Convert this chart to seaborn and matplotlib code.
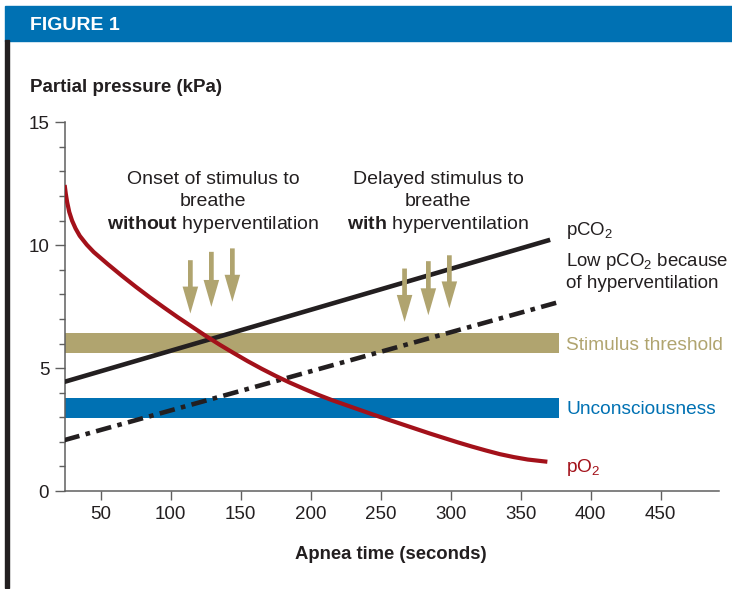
import matplotlib
matplotlib.use("Agg")
import matplotlib.pyplot as plt
import seaborn as sns
import pandas as pd
from matplotlib.patches import Rectangle

# apnea time (s) vs partial pressure (kPa)
po2_time = [24.2, 25, 26, 27.5, 29.5, 32, 35, 40, 45, 55, 65, 75, 85, 95, 105,
            115, 125, 135, 145, 155, 165, 175, 185, 195, 205, 215, 225, 235,
            245, 255, 265, 275, 285, 295, 305, 315, 325, 335, 345, 355, 369]
po2_kpa = [12.45, 12.1, 11.75, 11.35, 11.0, 10.68, 10.38, 10.02, 9.72, 9.23,
           8.76, 8.31, 7.88, 7.47, 7.07, 6.69, 6.31, 5.95, 5.61, 5.28, 4.97,
           4.68, 4.41, 4.16, 3.92, 3.70, 3.50, 3.30, 3.10, 2.91, 2.72, 2.53,
           2.34, 2.16, 1.98, 1.81, 1.65, 1.50, 1.38, 1.28, 1.19]

pco2_time = [24, 371]
pco2_kpa = [4.44, 10.22]

pco2_low_time = [24, 378]
pco2_low_kpa = [2.07, 7.70]

band_time = [24, 377]
stimulus_band = [5.62, 6.41]
unconscious_band = [2.98, 3.77]

# arrows: time, top, tip
arrows_without_time = [114, 129, 144]
arrows_without_top = [9.39, 9.73, 9.87]
arrows_without_tip = [7.22, 7.49, 7.70]
arrows_with_time = [267, 284, 299]
arrows_with_top = [9.05, 9.35, 9.59]
arrows_with_tip = [6.88, 7.15, 7.43]

x_ticks = [50, 100, 150, 200, 250, 300, 350, 400, 450]
y_ticks = [0, 5, 10, 15]

BLUE = "#0071b3"
TAN = "#b0a46f"
RED = "#a3111a"
DARK = "#231f20"
GREY = "#5f5f5f"

W, H = 732, 589

sns.set_style("white")
plt.rcParams["font.family"] = ["Liberation Sans", "DejaVu Sans"]
plt.rcParams["mathtext.fontset"] = "custom"
plt.rcParams["mathtext.rm"] = "Liberation Sans"
plt.rcParams["mathtext.bf"] = "Liberation Sans:bold"
plt.rcParams["mathtext.default"] = "regular"


def px(x, y):
    return x / W, 1 - y / H


fig = plt.figure(figsize=(W / 100, H / 100), dpi=100)
ax = fig.add_axes([64.5 / W, 1 - 491 / H, (719 - 64.5) / W, (491 - 122.3) / H])

# header bar and left rule
fig.patches.append(Rectangle(px(5, 40.5), 1, 34.5 / H, transform=fig.transFigure,
                             color=BLUE, zorder=0))
fig.patches.append(Rectangle(px(5, 588), 3.5 / W, 548 / H, transform=fig.transFigure,
                             color=DARK, zorder=0))
fig.text(*px(30, 29.5), "FIGURE 1", color="white", fontsize=14, fontweight="bold",
         va="baseline", ha="left")

# bands
ax.fill_between(band_time, stimulus_band[0], stimulus_band[1], color=TAN, lw=0, zorder=1)
ax.fill_between(band_time, unconscious_band[0], unconscious_band[1], color=BLUE, lw=0, zorder=1)

# curves
po2 = pd.DataFrame({"time": po2_time, "kpa": po2_kpa})
pco2 = pd.DataFrame({"time": pco2_time, "kpa": pco2_kpa})
pco2_low = pd.DataFrame({"time": pco2_low_time, "kpa": pco2_low_kpa})

sns.lineplot(data=pco2_low, x="time", y="kpa", ax=ax, color=DARK, lw=3.3,
             linestyle=(0, (3.4, 1.4, 1.0, 1.4)), dash_capstyle="butt", zorder=3)
sns.lineplot(data=pco2, x="time", y="kpa", ax=ax, color=DARK, lw=3.3,
             solid_capstyle="butt", zorder=3)
sns.lineplot(data=po2, x="time", y="kpa", ax=ax, color=RED, lw=3.0,
             solid_capstyle="butt", solid_joinstyle="round", zorder=4)

# arrows
arrow_style = "simple,head_length=0.97,head_width=0.56,tail_width=0.17"
for times, tops, tips in [(arrows_without_time, arrows_without_top, arrows_without_tip),
                          (arrows_with_time, arrows_with_top, arrows_with_tip)]:
    for t, top, tip in zip(times, tops, tips):
        ax.annotate("", xy=(t, tip), xytext=(t, top),
                    arrowprops=dict(arrowstyle=arrow_style, color=TAN, lw=0,
                                    shrinkA=0, shrinkB=0, mutation_scale=20),
                    zorder=5)

# axes styling
ax.set_xlim(24.1, 491.6)
ax.set_ylim(0, 15)
ax.set_xticks(x_ticks)
ax.set_yticks(y_ticks)
ax.set_yticks(range(0, 16), minor=True)
ax.set_xlabel("")
ax.set_ylabel("")
sns.despine(ax=ax)
for side in ["left", "bottom"]:
    ax.spines[side].set_color(GREY)
    ax.spines[side].set_linewidth(1.1)
ax.tick_params(axis="both", which="major", direction="out", length=7.5, width=1,
               color=GREY, labelsize=13.5, labelcolor=DARK, pad=3.5)
ax.tick_params(axis="y", which="minor", direction="out", length=4.5, width=1,
               color=GREY)
ax.tick_params(axis="x", which="major", length=6.5, pad=4.5)
ax.tick_params(left=True, bottom=True)
ax.tick_params(axis="y", which="minor", left=True)

# titles
fig.text(*px(30, 92), "Partial pressure (kPa)", fontsize=13.5, fontweight="bold",
         color=DARK, va="baseline", ha="left")
fig.text(*px(391, 559), "Apnea time (seconds)", fontsize=13.3, fontweight="bold",
         color=DARK, va="baseline", ha="center")

# annotations above the arrows
for cx, lines in [(213, ["Onset of stimulus to", "breathe",
                         r"$\bf{without}$ hyperventilation"]),
                  (438, ["Delayed stimulus to", "breathe",
                         r"$\bf{with}$ hyperventilation"])]:
    for y, s in zip([184, 206.5, 229], lines):
        fig.text(*px(cx, y), s, fontsize=14, color=DARK, ha="center", va="baseline")

# right-hand labels
right = [(235, r"pCO$_2$", DARK, 13.4), (266.5, r"Low pCO$_2$ because", DARK, 13.4),
         (288.5, "of hyperventilation", DARK, 13.6),
         (350, "Stimulus threshold", TAN, 13.8),
         (414, "Unconsciousness", BLUE, 13.8), (471.5, r"pO$_2$", RED, 13.8)]
for y, s, c, size in right:
    fig.text(*px(566, y), s, fontsize=size, color=c, ha="left", va="baseline")

plt.savefig("out.png", dpi=100)
plt.close()
